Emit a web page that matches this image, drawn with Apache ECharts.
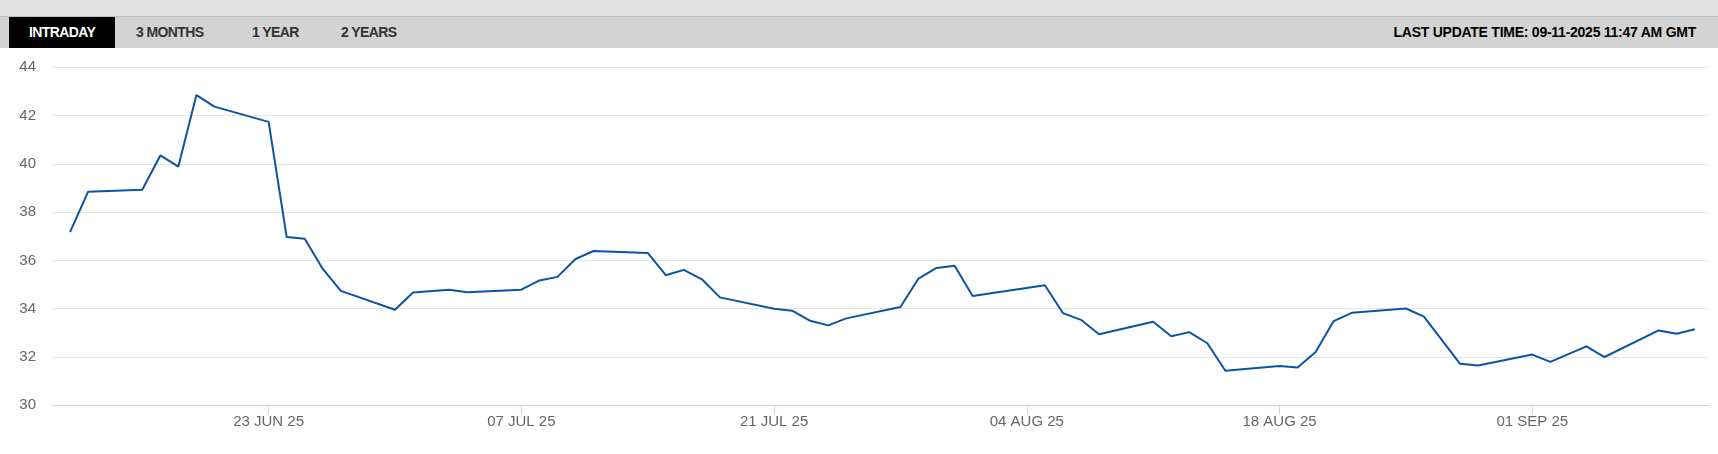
<!DOCTYPE html>
<html>
<head>
<meta charset="utf-8">
<script src="https://cdn.jsdelivr.net/npm/echarts@6/dist/echarts.min.js"></script>
<style>
  html, body { margin: 0; padding: 0; background: #fff; }
  #wrap { position: relative; width: 1718px; height: 454px; overflow: hidden; }
  #chart { position: absolute; left: 0; top: 0; width: 1718px; height: 454px; }
  .band { position: absolute; left: 0; width: 1718px; }
  .hdr { position: absolute; font-family: "Liberation Sans", Arial, sans-serif; font-weight: bold; font-size: 14px; line-height: 31px; top: 17px; height: 31px; white-space: nowrap; }
</style>
</head>
<body>
<div id="wrap">
  <div id="chart"></div>
  <div class="band" style="top:0;height:16px;background:#e1e1e1;"></div>
  <div class="band" style="top:16px;height:1px;background:#bdbdbd;"></div>
  <div class="band" style="top:17px;height:31px;background:#d3d3d3;"></div>
  <div class="hdr" style="left:9px;width:106px;background:#000;color:#fff;text-align:center;letter-spacing:-0.6px;">INTRADAY</div>
  <div class="hdr" style="left:136px;color:#333;letter-spacing:-0.6px;">3 MONTHS</div>
  <div class="hdr" style="left:252px;color:#333;letter-spacing:-0.6px;">1 YEAR</div>
  <div class="hdr" style="left:341px;color:#333;letter-spacing:-0.6px;">2 YEARS</div>
  <div class="hdr" style="right:22px;color:#000;letter-spacing:-0.25px;">LAST UPDATE TIME: 09-11-2025 11:47 AM GMT</div>
</div>
<script>
var dates = ['2025-06-12','2025-06-13','2025-06-16','2025-06-17','2025-06-18','2025-06-19','2025-06-20',
  '2025-06-23','2025-06-24','2025-06-25','2025-06-26','2025-06-27','2025-06-30','2025-07-01','2025-07-03',
  '2025-07-04','2025-07-07','2025-07-08','2025-07-09','2025-07-10','2025-07-11','2025-07-14','2025-07-15',
  '2025-07-16','2025-07-17','2025-07-18','2025-07-21','2025-07-22','2025-07-23','2025-07-24','2025-07-25',
  '2025-07-28','2025-07-29','2025-07-30','2025-07-31','2025-08-01','2025-08-05','2025-08-06','2025-08-07',
  '2025-08-08','2025-08-11','2025-08-12','2025-08-13','2025-08-14','2025-08-15','2025-08-18','2025-08-19',
  '2025-08-20','2025-08-21','2025-08-22','2025-08-25','2025-08-26','2025-08-28','2025-08-29','2025-09-01',
  '2025-09-02','2025-09-04','2025-09-05','2025-09-08','2025-09-09','2025-09-10'];
var prices = [37.17,38.85,38.93,40.35,39.89,42.85,42.37,
  41.74,36.97,36.90,35.65,34.74,33.96,34.67,34.79,
  34.68,34.79,35.17,35.32,36.06,36.39,36.31,35.39,
  35.61,35.22,34.47,34.00,33.92,33.50,33.31,33.60,
  34.07,35.25,35.69,35.78,34.53,34.97,33.82,33.54,
  32.94,33.46,32.86,33.03,32.57,31.43,31.63,31.57,
  32.21,33.49,33.83,34.01,33.67,31.72,31.65,32.10,
  31.80,32.44,32.00,33.10,32.96,33.15];
var tickDates = ['2025-06-23','2025-07-07','2025-07-21','2025-08-04','2025-08-18','2025-09-01'];
var yTicks = [30,32,34,36,38,40,42,44];
var months = ['JAN','FEB','MAR','APR','MAY','JUN','JUL','AUG','SEP','OCT','NOV','DEC'];

var DAY = 86400000;
var seriesData = dates.map(function (d, i) { return [Date.parse(d), prices[i]]; });
var tickVals = tickDates.map(function (d) { return Date.parse(d); });
var xMin = Date.parse('2025-06-11');
var xMax = Date.parse('2025-09-10') + 0.79 * DAY;

function fmt(v) {
  var d = new Date(v);
  var dd = d.getUTCDate();
  return (dd < 10 ? '0' + dd : '' + dd) + ' ' + months[d.getUTCMonth()] + ' ' + String(d.getUTCFullYear()).slice(2);
}

var chart = echarts.init(document.getElementById('chart'), null, { renderer: 'canvas' });
chart.setOption({
  animation: false,
  backgroundColor: '#ffffff',
  grid: { left: 52, right: 9, top: 67.3, bottom: 48.7, containLabel: false },
  xAxis: {
    type: 'value',
    min: xMin,
    max: xMax,
    scale: true,
    splitLine: { show: false },
    axisLine: { show: true, lineStyle: { color: '#ccd6eb', width: 1 } },
    axisTick: { show: true, customValues: tickVals, length: 9, lineStyle: { color: '#ccd6eb' } },
    axisLabel: {
      customValues: tickVals,
      formatter: function (v) { return fmt(v); },
      color: '#666666', fontSize: 15, margin: 9,
      fontFamily: '"Liberation Sans", Arial, sans-serif'
    }
  },
  yAxis: {
    type: 'value',
    min: yTicks[0],
    max: yTicks[yTicks.length - 1],
    interval: 2,
    axisLine: { show: false },
    axisTick: { show: false },
    splitLine: { show: true, lineStyle: { color: '#e6e6e6', width: 1 } },
    axisLabel: {
      color: '#666666', fontSize: 15, margin: 16,
      fontFamily: '"Liberation Sans", Arial, sans-serif'
    }
  },
  series: [{
    type: 'line',
    data: seriesData,
    showSymbol: false,
    lineStyle: { color: '#0a55a3', width: 2 },
    itemStyle: { color: '#0a55a3' }
  }]
});
</script>
</body>
</html>
